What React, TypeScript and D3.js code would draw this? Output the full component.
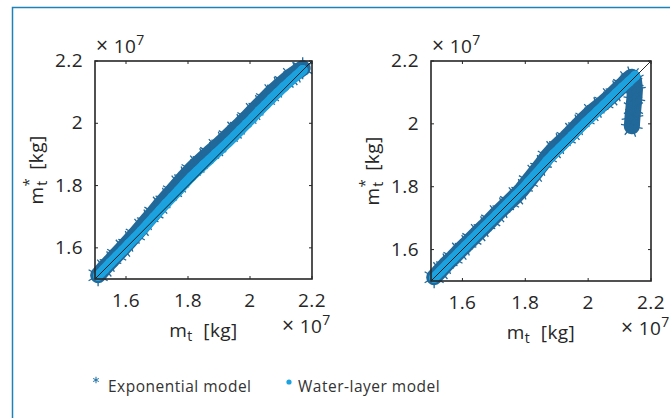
import React from "react";
import * as d3 from "d3";

// values in units of 1e7 kg
const DOMAIN = [1.5, 2.2];
const TICKS = [1.6, 1.8, 2, 2.2];

// left panel
const leftMt = [1.51, 1.53, 1.55, 1.57, 1.59, 1.61, 1.63, 1.65, 1.67, 1.69, 1.71, 1.73, 1.75, 1.77, 1.79, 1.81, 1.83, 1.85, 1.87, 1.89, 1.91, 1.93, 1.95, 1.97, 1.99, 2.01, 2.03, 2.05, 2.07, 2.09, 2.11, 2.13, 2.15, 2.17];
const leftExp = [1.512, 1.535, 1.556, 1.578, 1.599, 1.621, 1.643, 1.666, 1.690, 1.713, 1.737, 1.760, 1.782, 1.805, 1.828, 1.850, 1.869, 1.887, 1.905, 1.922, 1.940, 1.959, 1.978, 1.997, 2.017, 2.038, 2.058, 2.078, 2.098, 2.116, 2.133, 2.150, 2.164, 2.177];
const leftWater = [1.510, 1.531, 1.552, 1.572, 1.592, 1.613, 1.633, 1.654, 1.676, 1.698, 1.720, 1.742, 1.763, 1.784, 1.806, 1.827, 1.846, 1.865, 1.883, 1.902, 1.920, 1.939, 1.958, 1.978, 1.998, 2.018, 2.039, 2.059, 2.079, 2.098, 2.117, 2.135, 2.153, 2.171];

// right panel (exponential model bends back down at the top)
const rightExpMt = [1.51, 1.53, 1.55, 1.57, 1.59, 1.61, 1.63, 1.65, 1.67, 1.69, 1.71, 1.73, 1.75, 1.77, 1.79, 1.81, 1.83, 1.85, 1.87, 1.89, 1.91, 1.93, 1.95, 1.97, 1.99, 2.01, 2.03, 2.05, 2.07, 2.09, 2.11, 2.125, 2.138, 2.146, 2.149, 2.147, 2.144, 2.141, 2.139];
const rightExp = [1.512, 1.533, 1.555, 1.574, 1.595, 1.614, 1.634, 1.654, 1.673, 1.693, 1.714, 1.733, 1.752, 1.771, 1.792, 1.818, 1.843, 1.868, 1.896, 1.918, 1.937, 1.956, 1.976, 1.997, 2.017, 2.036, 2.052, 2.068, 2.086, 2.105, 2.124, 2.140, 2.150, 2.138, 2.110, 2.080, 2.050, 2.020, 1.992];
const rightWaterMt = [1.51, 1.53, 1.55, 1.57, 1.59, 1.61, 1.63, 1.65, 1.67, 1.69, 1.71, 1.73, 1.75, 1.77, 1.79, 1.81, 1.83, 1.85, 1.87, 1.89, 1.91, 1.93, 1.95, 1.97, 1.99, 2.01, 2.03, 2.05, 2.07, 2.09, 2.11, 2.13, 2.15];
const rightWater = [1.510, 1.530, 1.551, 1.571, 1.591, 1.611, 1.631, 1.651, 1.671, 1.691, 1.711, 1.731, 1.751, 1.771, 1.791, 1.813, 1.835, 1.858, 1.882, 1.903, 1.922, 1.942, 1.962, 1.982, 2.002, 2.021, 2.040, 2.059, 2.078, 2.097, 2.116, 2.134, 2.153];

const seriesNames = ["Exponential model", "Water-layer model"];
const DARK = "#22699a";
const LIGHT = "#1ca2df";
const TEXT = "#262626";
const FONT = "'Open Sans', 'Noto Sans', sans-serif";

const zip = (xs: number[], ys: number[]) => xs.map((x, i) => [x, ys[i]] as [number, number]);

const star = d3.symbol(d3.symbolAsterisk, 340)();

function Panel({ box, exp, water }: { box: { x0: number; x1: number; y0: number; y1: number }; exp: [number, number][]; water: [number, number][] }) {
  const x = d3.scaleLinear().domain(DOMAIN).range([box.x0, box.x1]);
  const y = d3.scaleLinear().domain(DOMAIN).range([box.y1, box.y0]);
  const line = d3.line<[number, number]>().x((d) => x(d[0])).y((d) => y(d[1]));
  const tick = 3;
  const cx = (box.x0 + box.x1) / 2;
  const cy = (box.y0 + box.y1) / 2;
  return (
    <g>
      {/* exponential model */}
      <path d={line(exp) || ""} fill="none" stroke={DARK} strokeWidth={16} strokeLinejoin="round" strokeLinecap="round" />
      {exp.map((d, i) => (
        <path key={"e" + i} d={star || ""} transform={`translate(${x(d[0])},${y(d[1])}) rotate(${(i % 3) * 20})`} stroke={DARK} strokeWidth={1.3} fill="none" />
      ))}
      {/* water-layer model */}
      <path d={line(water) || ""} fill="none" stroke={LIGHT} strokeWidth={10} strokeLinejoin="round" strokeLinecap="round" />
      {water.map((d, i) => (
        <circle key={"w" + i} cx={x(d[0])} cy={y(d[1])} r={5} fill={LIGHT} />
      ))}
      {/* 1:1 line */}
      <line x1={x(DOMAIN[0])} y1={y(DOMAIN[0])} x2={x(DOMAIN[1])} y2={y(DOMAIN[1])} stroke="#111" strokeWidth={0.9} />
      {/* box with inward ticks */}
      <rect x={box.x0} y={box.y0} width={box.x1 - box.x0} height={box.y1 - box.y0} fill="none" stroke={TEXT} strokeWidth={1.6} />
      {TICKS.map((t) => (
        <g key={"t" + t} stroke={TEXT} strokeWidth={1}>
          <line x1={x(t)} x2={x(t)} y1={box.y1} y2={box.y1 - tick} />
          <line x1={x(t)} x2={x(t)} y1={box.y0} y2={box.y0 + tick} />
          <line x1={box.x0} x2={box.x0 + tick} y1={y(t)} y2={y(t)} />
          <line x1={box.x1} x2={box.x1 - tick} y1={y(t)} y2={y(t)} />
        </g>
      ))}
      <g fontFamily={FONT} fontSize={19} letterSpacing={0.4} fill={TEXT}>
        {TICKS.map((t) => (
          <text key={"xl" + t} x={x(t)} y={box.y1 + 28} textAnchor="middle">{d3.format("")(t)}</text>
        ))}
        {TICKS.map((t) => (
          <text key={"yl" + t} x={box.x0 - 12} y={y(t) + 6} textAnchor="end">{d3.format("")(t)}</text>
        ))}
        <text x={box.x0 + 1} y={box.y0 - 8}>
          <tspan fontSize={21}>×</tspan> 10<tspan dy={-8} fontSize={14}>7</tspan>
        </text>
        <text x={box.x1 - 30} y={box.y1 + 54}>
          <tspan fontSize={21}>×</tspan> 10<tspan dy={-8} fontSize={14}>7</tspan>
        </text>
        <text x={cx} y={box.y1 + 58} textAnchor="middle">
          m<tspan dy={4} fontSize={14}>t</tspan>
          <tspan dy={-4}>{"\u00a0\u00a0[kg]"}</tspan>
        </text>
        <text transform={`translate(${box.x0 - 52},${cy}) rotate(-90)`} textAnchor="middle">
          m<tspan dy={-9} fontSize={15}>*</tspan>
          <tspan dy={13} dx={-8} fontSize={14}>t</tspan>
          <tspan dy={-4}>{"\u00a0\u00a0[kg]"}</tspan>
        </text>
      </g>
    </g>
  );
}

export default function App() {
  const W = 670;
  const H = 418;
  return (
    <svg width={W} height={H} style={{ position: "absolute", left: 0, top: 0, background: "#fff" }}>
      <path d={`M12.5,${H} V7.5 H${W}`} fill="none" stroke="#1f82b6" strokeWidth={1.5} />
      <Panel box={{ x0: 95, x1: 312, y0: 61, y1: 279 }} exp={zip(leftMt, leftExp)} water={zip(leftMt, leftWater)} />
      <Panel box={{ x0: 431, x1: 651, y0: 61, y1: 281 }} exp={zip(rightExpMt, rightExp)} water={zip(rightWaterMt, rightWater)} />
      <g fontFamily={FONT} fontSize={15.5} letterSpacing={0.5} fill="#333">
        <path d={d3.symbol(d3.symbolAsterisk, 30)() || ""} transform="translate(96,380)" stroke="#2a78a8" strokeWidth={1.1} fill="none" />
        <text x={108} y={392}>{seriesNames[0]}</text>
        <circle cx={289} cy={382} r={2.6} fill={LIGHT} />
        <text x={298} y={392}>{seriesNames[1]}</text>
      </g>
    </svg>
  );
}
